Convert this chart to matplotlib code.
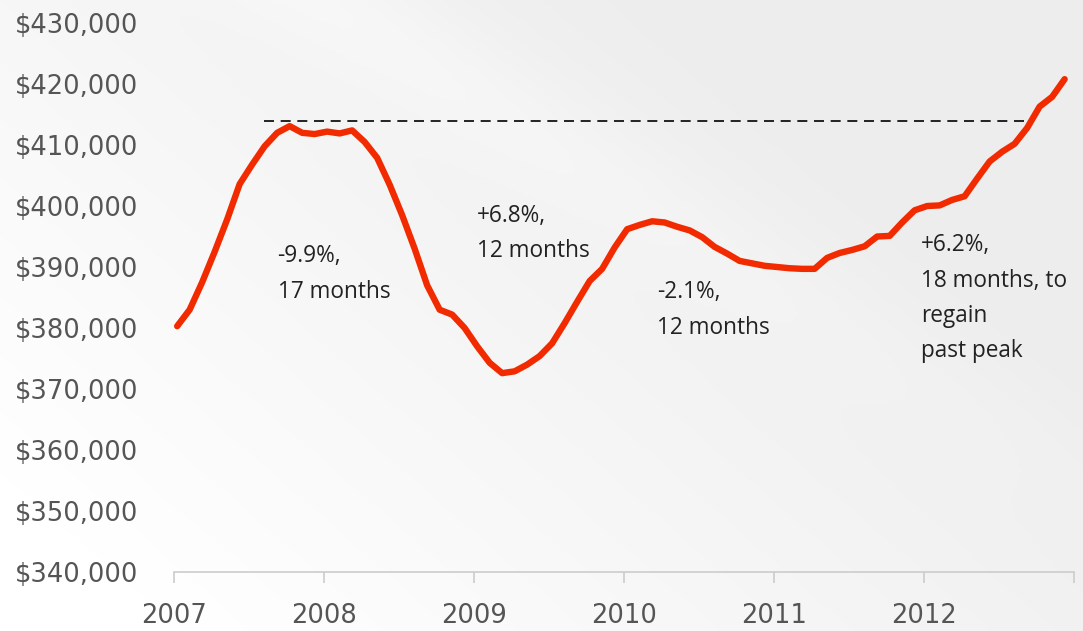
import numpy as np
import matplotlib
matplotlib.use("Agg")
import matplotlib.pyplot as plt
from matplotlib.ticker import FuncFormatter

# ---- data (monthly, Jan 2007 .. Dec 2012) ----
prices = [
    380300, 383000, 387500, 392500, 397800, 403600, 406800, 409800, 412000, 413100,
    412000, 411800, 412200, 411900, 412400, 410500, 407900, 403500, 398500, 393000,
    387000, 383000, 382200, 380000, 377000, 374300, 372600, 372900, 374000, 375400,
    377500, 380800, 384300, 387700, 389700, 393200, 396200, 396900, 397500, 397300,
    396600, 396000, 394900, 393300, 392200, 391000, 390600, 390200, 390000, 389800,
    389700, 389700, 391500, 392300, 392800, 393400, 395000, 395100, 397300, 399300,
    400000, 400100, 401000, 401600, 404500, 407300, 408900, 410200, 412800, 416300,
    417900, 420800,
]
start_year = 2007
past_peak = 414000
peak_line_span = (2007.6, 2012.7)

year_ticks = [2007, 2008, 2009, 2010, 2011, 2012, 2013]
year_labels = ["2007", "2008", "2009", "2010", "2011", "2012", ""]
price_ticks = [340000, 350000, 360000, 370000, 380000, 390000, 400000, 410000, 420000, 430000]

annotations = [
    (2007.69, 393700, "-9.9%,\n17 months"),
    (2009.02, 400300, "+6.8%,\n12 months"),
    (2010.22, 387800, "-2.1%,\n12 months"),
    (2011.98, 395500, "+6.2%,\n18 months, to\nregain\npast peak"),
]

# ---- figure ----
fig = plt.figure(figsize=(10.83, 6.31), dpi=100)

# subtle background gradient
bg = fig.add_axes([0, 0, 1, 1], zorder=-10)
gx, gy = np.meshgrid(np.linspace(0, 1, 300), np.linspace(0, 1, 200))
shade = 1.0 - 0.07 * np.clip(0.9 * gx + 0.6 * (1 - gy) - 0.15, 0, 1)
band = np.exp(-((gx - 0.75 - (gy - 0.5) * 0.9) ** 2) / 0.01) * 0.02 * (1 - gy)
img = np.clip(shade + band, 0, 1)
bg.imshow(np.dstack([img, img, img]), aspect="auto", extent=[0, 1, 0, 1], origin="upper")
bg.axis("off")

ax = fig.add_axes([0.1607, 0.0935, 0.9917 - 0.1607, 0.9635 - 0.0935])
ax.patch.set_alpha(0)

x = [start_year + (i + 0.25) / 12 for i in range(len(prices))]
ax.plot(x, prices, color="#f22a00", lw=4.6, solid_capstyle="round", solid_joinstyle="round", zorder=3)
ax.hlines(past_peak, peak_line_span[0], peak_line_span[1], colors="black", lw=1.2,
          linestyles=(0, (6, 4)), zorder=2)

for ax_x, ax_y, txt in annotations:
    ax.text(ax_x, ax_y, txt, fontsize=16.3, family="Open Sans", color="#222222",
            va="top", ha="left", linespacing=1.62)

ax.set_xlim(2007, 2013)
ax.set_ylim(340000, 430000)
ax.set_xticks(year_ticks)
ax.set_xticklabels(year_labels)
ax.set_yticks(price_ticks)
ax.yaxis.set_major_formatter(FuncFormatter(lambda v, p: f"${v:,.0f}"))

for s in ["top", "right", "left"]:
    ax.spines[s].set_visible(False)
ax.spines["bottom"].set_color("#cccccc")
ax.spines["bottom"].set_linewidth(1.2)
ax.tick_params(axis="x", length=8, width=1.2, color="#cccccc", pad=14,
               labelsize=18.5, labelcolor="#555555")
ax.tick_params(axis="y", length=0, pad=26, labelsize=18.5, labelcolor="#555555")
ax.spines["bottom"].set_zorder(1)

fig.savefig("out.png", dpi=100)
